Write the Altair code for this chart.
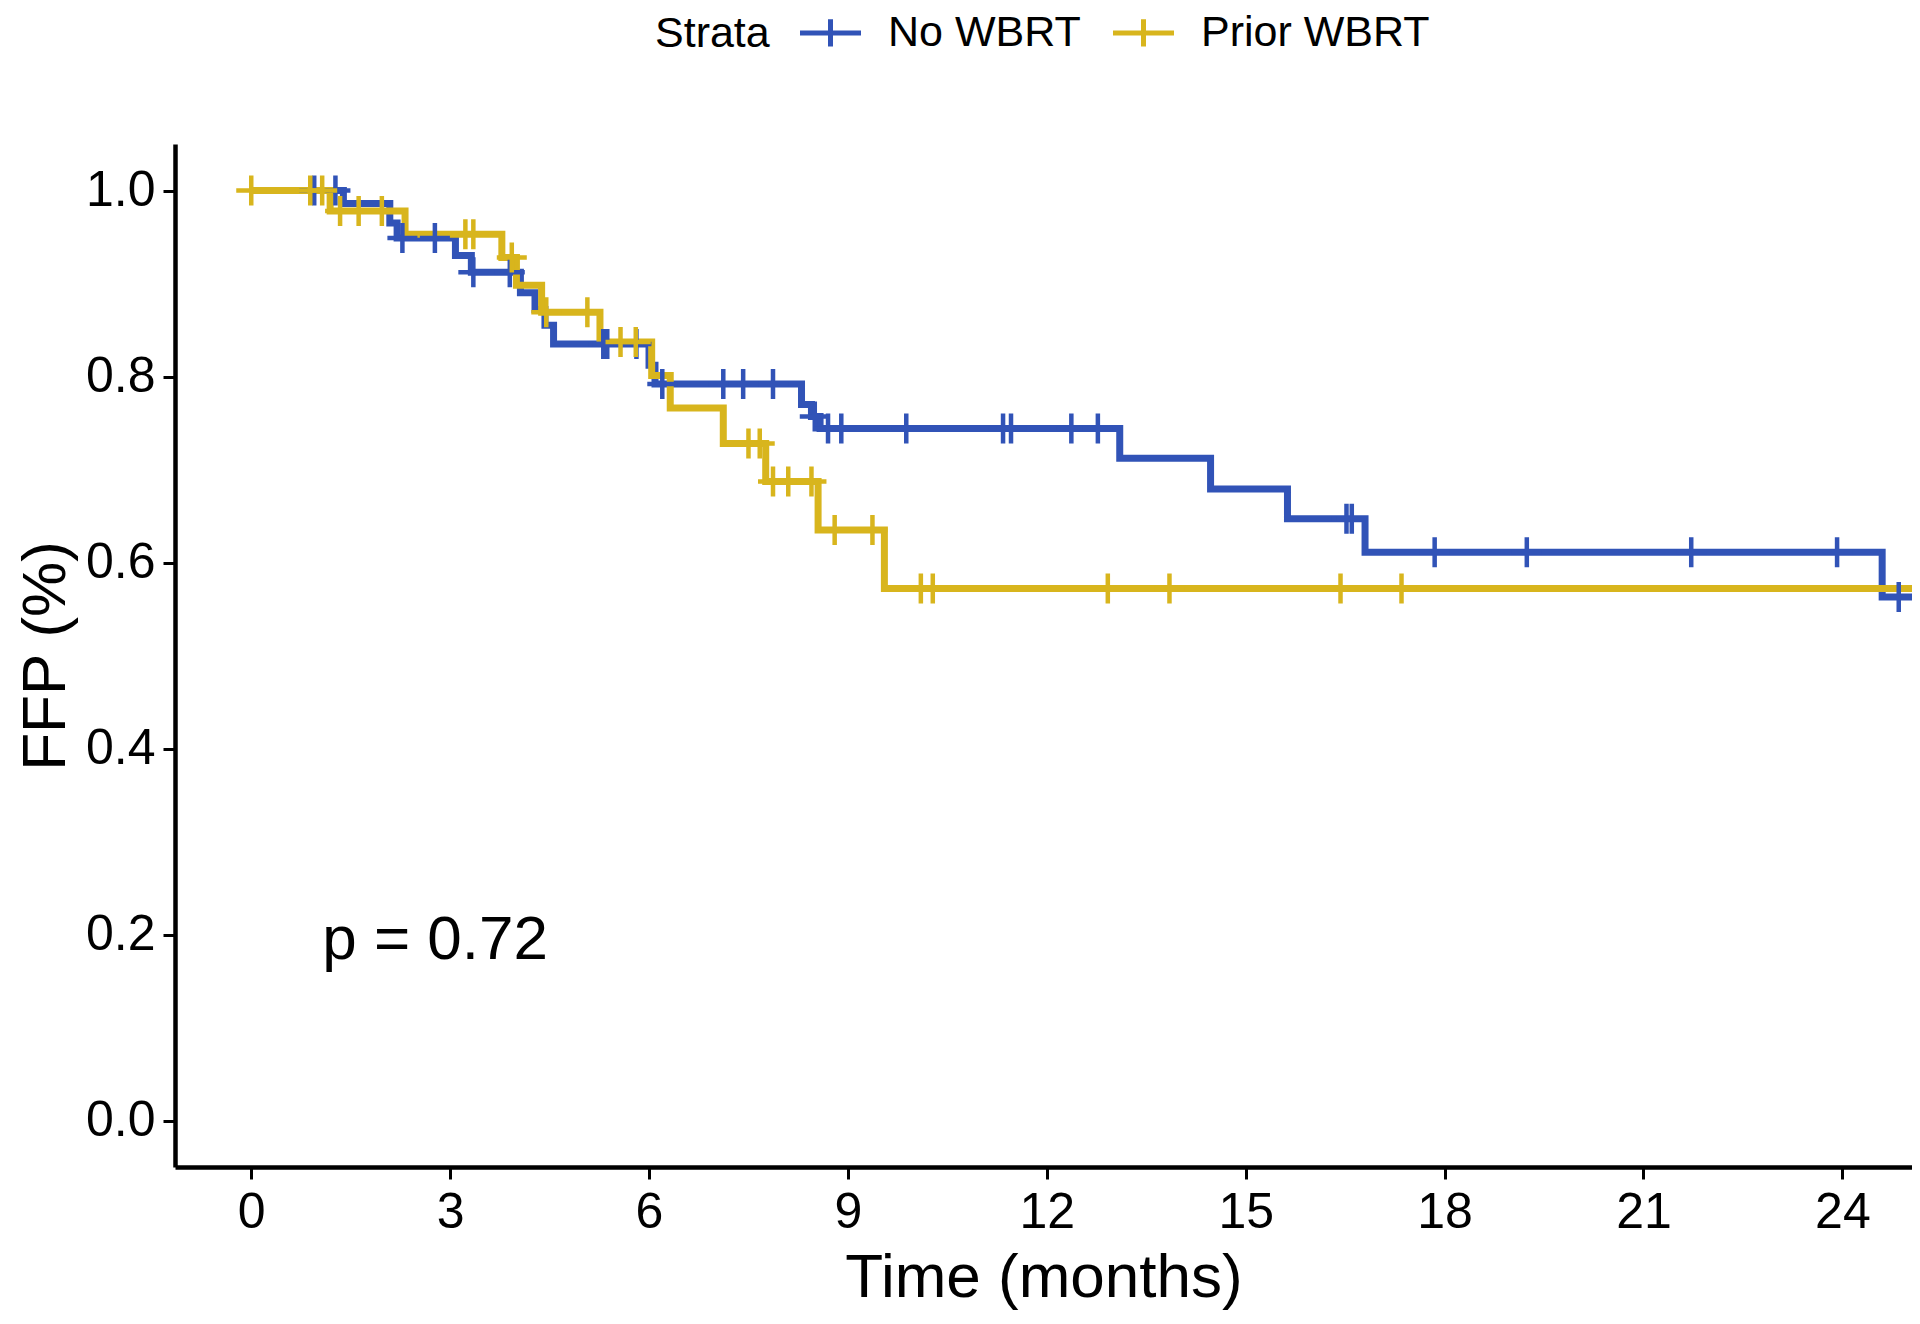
import altair as alt
import pandas as pd

# ---------------- data ----------------
groups = ["No WBRT", "Prior WBRT"]
colors = ["#3153B7", "#D8B51D"]

# Kaplan-Meier step curve: No WBRT
nowbrt_time = [0, 1.39, 2.09, 2.2, 3.08, 3.32, 4.06, 4.28, 4.43, 4.56, 6.0, 6.09,
               8.3, 8.45, 8.58, 13.1, 14.47, 15.63, 16.8, 24.6, 25.05]
nowbrt_surv = [1.0, 0.986, 0.965, 0.949, 0.93, 0.912, 0.89, 0.872, 0.855, 0.835, 0.812, 0.792,
               0.77, 0.757, 0.744, 0.712, 0.679, 0.647, 0.611, 0.563, 0.563]
nowbrt_censor = [0.95, 1.27, 2.28, 2.77, 3.35, 3.9, 5.31, 5.37, 5.81, 6.2, 7.12, 7.42, 7.87,
                 8.5, 8.7, 8.9, 9.88, 11.34, 11.46, 12.37, 12.77, 16.52, 16.6, 17.85,
                 19.24, 21.72, 23.92, 24.85]

# Kaplan-Meier step curve: Prior WBRT
prior_time = [0, 1.19, 2.32, 3.78, 4.0, 4.38, 5.26, 6.04, 6.32, 7.12, 7.76, 8.55, 9.55, 25.05]
prior_surv = [1.0, 0.978, 0.953, 0.928, 0.898, 0.869, 0.837, 0.801, 0.766, 0.728, 0.687,
              0.635, 0.572, 0.572]
prior_censor = [0.0, 0.89, 1.07, 1.34, 1.62, 1.97, 3.23, 3.35, 3.93, 4.45, 5.07, 5.57, 5.8,
                7.5, 7.67, 7.87, 8.1, 8.45, 8.8, 9.37, 10.1, 10.28, 12.92, 13.85, 16.43, 17.35]

x_ticks = [0, 3, 6, 9, 12, 15, 18, 21, 24]
y_ticks = [0.0, 0.2, 0.4, 0.6, 0.8, 1.0]

pval_text = ["p = 0.72"]
pval_x = [1.07]
pval_y = [0.194]

# ---------------- tables ----------------
def step_value(times, surv, t):
    v = surv[0]
    for ti, si in zip(times, surv):
        if ti <= t:
            v = si
    return v

curves = pd.concat([
    pd.DataFrame({"time": nowbrt_time, "surv": nowbrt_surv, "strata": groups[0]}),
    pd.DataFrame({"time": prior_time, "surv": prior_surv, "strata": groups[1]}),
], ignore_index=True)

censors = pd.concat([
    pd.DataFrame({"time": nowbrt_censor,
                  "surv": [step_value(nowbrt_time, nowbrt_surv, t) for t in nowbrt_censor],
                  "strata": groups[0]}),
    pd.DataFrame({"time": prior_censor,
                  "surv": [step_value(prior_time, prior_surv, t) for t in prior_censor],
                  "strata": groups[1]}),
], ignore_index=True)

pval = pd.DataFrame({"x": pval_x, "y": pval_y, "label": pval_text})

# ---------------- chart ----------------
FONT = "Liberation Sans"
x_scale = alt.Scale(domain=[-1.15, 25.05], nice=False, zero=False)
y_scale = alt.Scale(domain=[-0.05, 1.05], nice=False, zero=False)
color_scale = alt.Scale(domain=groups, range=colors)

legend = alt.Legend(
    title="Strata", orient="none", legendX=480, legendY=-133,
    direction="horizontal", titleOrient="left", titleAnchor="middle", titleBaseline="middle",
    symbolType="M-2,0L2,0M0,-0.9L0,0.9", symbolSize=930, symbolStrokeWidth=5,
    labelFontSize=43, titleFontSize=43, labelFont=FONT, titleFont=FONT,
    labelColor="black", titleColor="black", titleFontWeight="normal",
    labelOffset=36, columnPadding=22, titlePadding=39, labelLimit=0,
)

x_axis = alt.Axis(values=x_ticks, format="d", title="Time (months)", grid=False,
                  labelFontSize=50, titleFontSize=62, labelFont=FONT, titleFont=FONT,
                  titleFontWeight="normal", labelColor="black", titleColor="black",
                  domainColor="black", tickColor="black", domainWidth=4.5, tickWidth=3,
                  tickSize=12, labelPadding=8, titlePadding=10)
y_axis = alt.Axis(values=y_ticks, format=".1f", title="FFP (%)", grid=False,
                  labelFontSize=50, titleFontSize=62, labelFont=FONT, titleFont=FONT,
                  titleFontWeight="normal", labelColor="black", titleColor="black",
                  domainColor="black", tickColor="black", domainWidth=4.5, tickWidth=3,
                  tickSize=12, labelPadding=8, titlePadding=8)

lines = alt.Chart(curves).mark_line(interpolate="step-after", strokeWidth=7, clip=True).encode(
    x=alt.X("time:Q", scale=x_scale, axis=x_axis),
    y=alt.Y("surv:Q", scale=y_scale, axis=y_axis),
    color=alt.Color("strata:N", scale=color_scale, legend=legend),
)

points = alt.Chart(censors).mark_point(
    shape="M-1,0L1,0M0,-1L0,1", size=900, strokeWidth=4.5, filled=False, opacity=1, clip=True
).encode(
    x=alt.X("time:Q", scale=x_scale),
    y=alt.Y("surv:Q", scale=y_scale),
    color=alt.Color("strata:N", scale=color_scale, legend=legend),
)

text = alt.Chart(pval).mark_text(align="left", baseline="middle", fontSize=62,
                                 font=FONT, color="black").encode(
    x=alt.X("x:Q", scale=x_scale),
    y=alt.Y("y:Q", scale=y_scale),
    text="label:N",
)

chart = alt.layer(lines, points, text).properties(
    width=1737, height=1023,
    autosize=alt.AutoSizeParams(type="none"),
    padding={"left": 167, "top": 136, "right": 0, "bottom": 149},
    background="white",
).configure_view(stroke=None)

chart.save("out.html", embed_options={"renderer": "svg", "actions": False})
